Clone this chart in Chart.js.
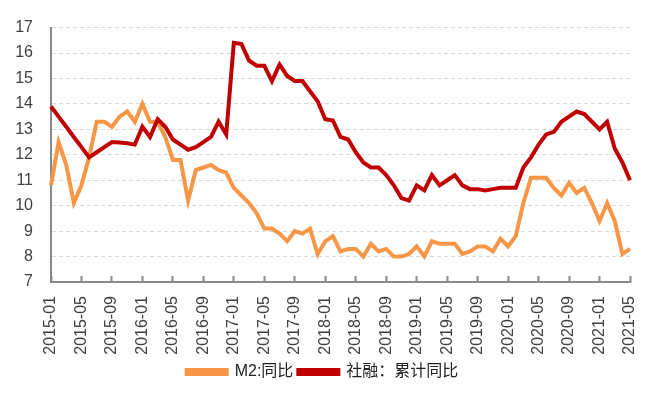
<!DOCTYPE html>
<html>
<head>
<meta charset="utf-8">
<script src="https://cdn.jsdelivr.net/npm/chart.js@4"></script>
<style>
  html, body { margin: 0; padding: 0; background: #fff; }
  #wrap { width: 647px; height: 399px; }
</style>
</head>
<body>
<div id="wrap"><canvas id="chartCanvas" width="647" height="399"></canvas></div>
<script>
// 月份 2015-01 ~ 2021-05
const months = [];
for (let y = 2015; y <= 2021; y++) {
  for (let m = 1; m <= 12; m++) {
    if (y === 2021 && m > 5) break;
    months.push(y + '-' + String(m).padStart(2, '0'));
  }
}

const m2Yoy = [
  10.8, 12.5, 11.6, 10.1, 10.8, 11.9, 13.3, 13.3, 13.1, 13.5, 13.7, 13.3,
  14.0, 13.3, 13.3, 12.7, 11.8, 11.8, 10.2, 11.4, 11.5, 11.6, 11.4, 11.3,
  10.7, 10.4, 10.1, 9.7, 9.1, 9.1, 8.9, 8.6, 9.0, 8.9, 9.1, 8.1,
  8.6, 8.8, 8.2, 8.3, 8.3, 8.0, 8.5, 8.2, 8.3, 8.0, 8.0, 8.1,
  8.4, 8.0, 8.6, 8.5, 8.5, 8.5, 8.1, 8.2, 8.4, 8.4, 8.2, 8.7,
  8.4, 8.8, 10.1, 11.1, 11.1, 11.1, 10.7, 10.4, 10.9, 10.5, 10.7, 10.1,
  9.4, 10.1, 9.4, 8.1, 8.3
];

const tsfYoy = [
  13.9, 13.5, 13.1, 12.7, 12.3, 11.9, 12.1, 12.3, 12.5, 12.48, 12.45, 12.4,
  13.1, 12.7, 13.4, 13.1, 12.6, 12.4, 12.2, 12.3, 12.5, 12.7, 13.3, 12.8,
  16.4, 16.35, 15.7, 15.5, 15.5, 14.9, 15.55, 15.1, 14.9, 14.9, 14.5, 14.1,
  13.4, 13.35, 12.7, 12.6, 12.1, 11.7, 11.5, 11.5, 11.2, 10.8, 10.3, 10.2,
  10.8, 10.6, 11.2, 10.8, 11.0, 11.2, 10.8, 10.65, 10.65, 10.6, 10.65, 10.7,
  10.7, 10.7, 11.5, 11.9, 12.4, 12.8, 12.9, 13.3, 13.5, 13.7, 13.6, 13.3,
  13.0, 13.3, 12.25, 11.7, 11.0
];

const yMin = 7, yMax = 17;

const textColor = '#404040';
const axisColor = '#898989';
const fontFamily = '"Liberation Sans", Arial, "Noto Sans CJK SC", sans-serif';

const ctx = document.getElementById('chartCanvas').getContext('2d');
new Chart(ctx, {
  type: 'line',
  data: {
    labels: months,
    datasets: [
      {
        label: '社融：累计同比',
        data: tsfYoy,
        borderColor: '#C00000',
        backgroundColor: '#C00000',
        borderWidth: 4,
        pointRadius: 0,
        tension: 0,
        fill: false
      },
      {
        label: 'M2:同比',
        data: m2Yoy,
        borderColor: '#F79646',
        backgroundColor: '#F79646',
        borderWidth: 4,
        pointRadius: 0,
        tension: 0,
        fill: false
      }
    ]
  },
  options: {
    responsive: false,
    animation: false,
    layout: { padding: { top: 10, right: 17, bottom: 9, left: 15 } },
    plugins: {
      tooltip: { enabled: false },
      legend: {
        position: 'bottom',
        reverse: true,
        labels: {
          color: '#222',
          font: { family: fontFamily, size: 16 },
          boxWidth: 40,
          boxHeight: 4,
          padding: 5
        }
      }
    },
    scales: {
      x: {
        offset: false,
        grid: {
          display: true,
          drawOnChartArea: false,
          drawTicks: true,
          tickLength: -6,
          tickColor: axisColor,
          tickWidth: 2
        },
        border: { display: true, color: axisColor, width: 2 },
        ticks: {
          autoSkip: false,
          minRotation: 90,
          maxRotation: 90,
          padding: 20,
          color: textColor,
          font: { family: fontFamily, size: 16 },
          callback: function (val, i) {
            return i % 4 === 0 ? months[i] : null;
          }
        },
        // rotated labels make Chart.js reserve too much side room
        afterFit: function (scale) {
          scale.paddingLeft = 0;
          scale.paddingRight = 0;
          scale.height = 77;
        }
      },
      y: {
        min: yMin,
        max: yMax,
        grid: { color: '#d9d9d9', lineWidth: 1, drawTicks: false },
        border: { display: true, color: axisColor, width: 2, dash: [4, 3] },
        ticks: {
          stepSize: 1,
          padding: 18,
          color: textColor,
          font: { family: fontFamily, size: 16 }
        },
        afterFit: function (scale) {
          scale.width = 36;
        }
      }
    }
  }
});
</script>
</body>
</html>
